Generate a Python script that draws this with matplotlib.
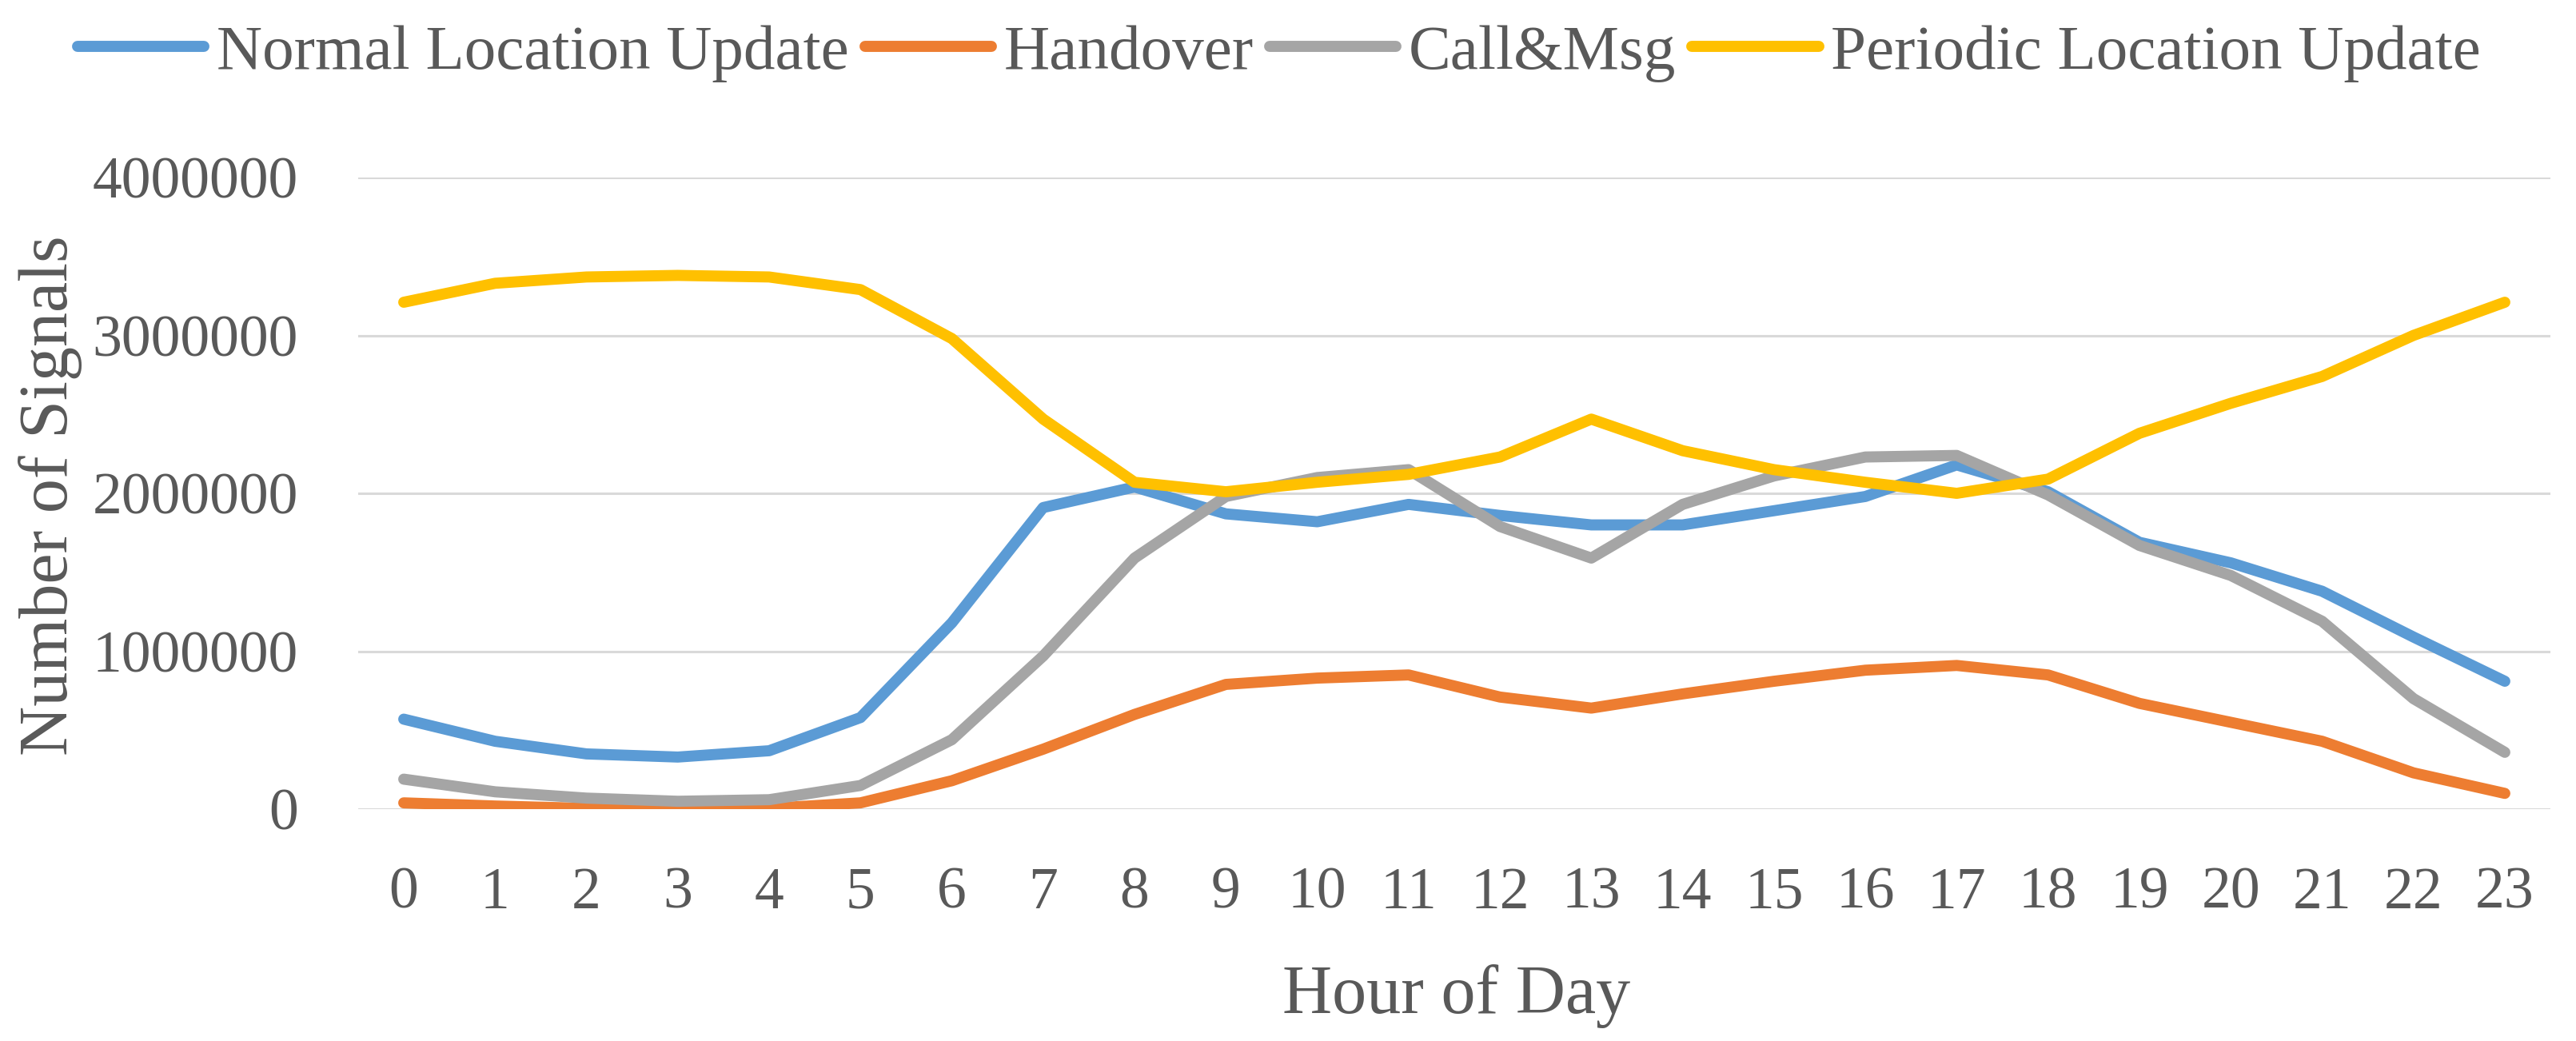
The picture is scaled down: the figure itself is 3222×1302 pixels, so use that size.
import matplotlib
matplotlib.use('Agg')
from matplotlib import pyplot as plt

hours = list(range(24))

normal_lu = [0.57, 0.43, 0.35, 0.33, 0.37, 0.58, 1.18, 1.91, 2.04, 1.87,
             1.82, 1.93, 1.86, 1.80, 1.80, 1.89, 1.98, 2.18, 2.01, 1.69,
             1.56, 1.38, 1.09, 0.81]
handover = [0.04, 0.02, 0.005, 0.0, 0.005, 0.04, 0.18, 0.38, 0.60, 0.79,
            0.83, 0.85, 0.71, 0.64, 0.73, 0.81, 0.88, 0.91, 0.85, 0.67,
            0.55, 0.43, 0.23, 0.10]
call_msg = [0.19, 0.11, 0.07, 0.05, 0.06, 0.15, 0.44, 0.97, 1.59, 1.98,
            2.10, 2.15, 1.79, 1.59, 1.93, 2.11, 2.23, 2.24, 1.99, 1.67,
            1.48, 1.19, 0.70, 0.36]
periodic_lu = [3.21, 3.33, 3.37, 3.38, 3.37, 3.29, 2.98, 2.47, 2.07, 2.01,
               2.07, 2.12, 2.23, 2.47, 2.27, 2.15, 2.07, 2.00, 2.09, 2.38,
               2.57, 2.74, 3.00, 3.21]

series = [('Normal Location Update', normal_lu, '#5B9BD5'),
          ('Handover', handover, '#ED7D31'),
          ('Call&Msg', call_msg, '#A5A5A5'),
          ('Periodic Location Update', periodic_lu, '#FFC000')]

text_color = '#595959'
plt.rcParams['font.family'] = ['Liberation Serif', 'DejaVu Serif']

fig = plt.figure(figsize=(32.22, 13.02), dpi=100)
ax = fig.add_axes([0.1390, 0.2227, 0.8511, 0.6068])

for name, vals, color in series:
    ax.plot(hours, [v * 1e6 for v in vals], color=color, lw=10, label=name,
            solid_capstyle='round', solid_joinstyle='round')

ax.set_xlim(-0.5, 23.5)
ax.set_ylim(0, 4e6)
ax.set_yticks([0, 1e6, 2e6, 3e6, 4e6])
ax.set_yticklabels(['0', '1000000', '2000000', '3000000', '4000000'])
ax.set_xticks(hours)
ax.set_xticklabels([str(h) for h in hours])
ax.grid(axis='y', color='#D9D9D9', lw=2.2)
ax.set_axisbelow(True)
for s in ax.spines.values():
    s.set_visible(False)
ax.tick_params(axis='y', length=0, pad=54, labelsize=53, labelcolor=text_color)
ax.tick_params(axis='x', length=0, pad=52, labelsize=53, labelcolor=text_color)

fig.text(0.0195, 0.5238, 'Number of Signals', rotation=90, ha='center', va='center',
         fontsize=62, color=text_color)
fig.text(0.5655, 0.0269, 'Hour of Day', ha='center', va='baseline',
         fontsize=62, color=text_color)

leg = fig.legend(loc='center', bbox_to_anchor=(0.4966, 0.949), ncol=4, frameon=False,
                 fontsize=57, handlelength=2.0, handletextpad=0.2, columnspacing=0.25)
for t in leg.get_texts():
    t.set_color(text_color)

fig.savefig('out.png', dpi=100, facecolor='white')
